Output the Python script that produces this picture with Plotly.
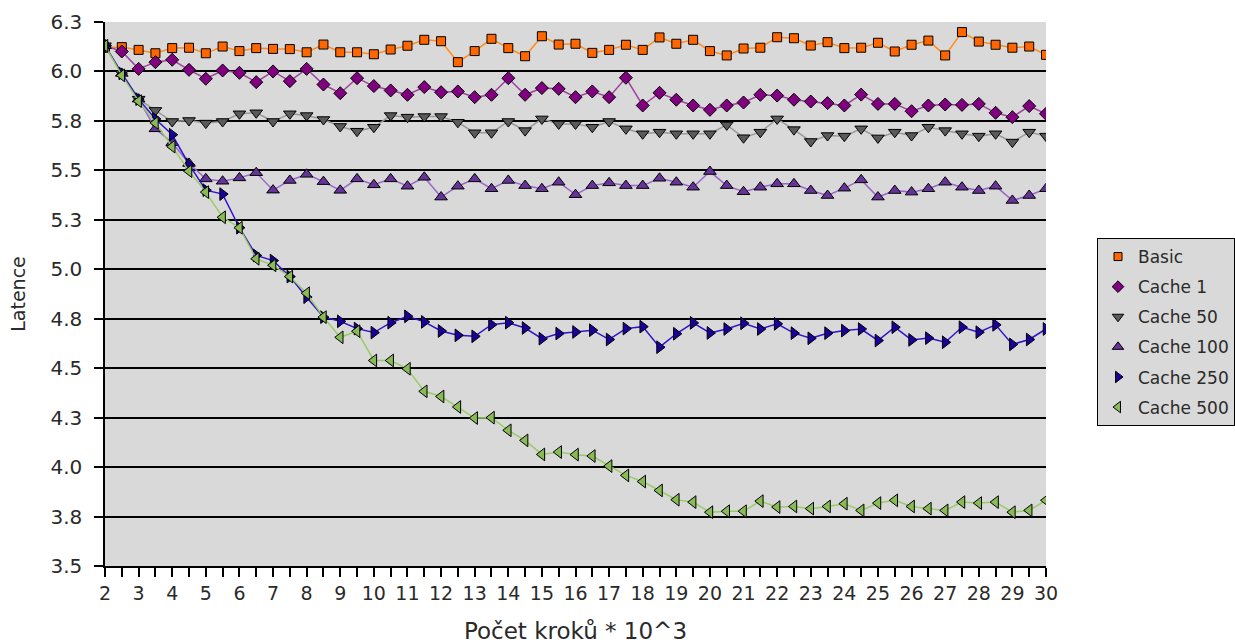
import plotly.graph_objects as go

# Počet kroků (v tisících)
krok = [2, 2.5, 3, 3.5, 4, 4.5, 5, 5.5, 6, 6.5, 7, 7.5, 8, 8.5, 9, 9.5, 10, 10.5,
        11, 11.5, 12, 12.5, 13, 13.5, 14, 14.5, 15, 15.5, 16, 16.5, 17, 17.5, 18,
        18.5, 19, 19.5, 20, 20.5, 21, 21.5, 22, 22.5, 23, 23.5, 24, 24.5, 25, 25.5,
        26, 26.5, 27, 27.5, 28, 28.5, 29, 29.5, 30]

basic = [6.12, 6.123, 6.109, 6.092, 6.118, 6.12, 6.092, 6.126, 6.103, 6.118, 6.114,
         6.113, 6.097, 6.136, 6.097, 6.097, 6.087, 6.111, 6.13, 6.16, 6.153, 6.047,
         6.103, 6.165, 6.118, 6.077, 6.178, 6.136, 6.14, 6.094, 6.109, 6.135, 6.109,
         6.172, 6.14, 6.16, 6.103, 6.081, 6.116, 6.12, 6.173, 6.168, 6.131, 6.148,
         6.118, 6.12, 6.145, 6.101, 6.135, 6.156, 6.081, 6.199, 6.151, 6.135, 6.12,
         6.126, 6.084]

cache_1 = [6.13, 6.101, 6.013, 6.047, 6.059, 6.008, 5.963, 6.005, 5.993, 5.946, 6.0,
           5.951, 6.013, 5.934, 5.89, 5.966, 5.926, 5.904, 5.882, 5.921, 5.895, 5.899,
           5.87, 5.882, 5.966, 5.882, 5.916, 5.912, 5.87, 5.899, 5.87, 5.968, 5.828,
           5.892, 5.857, 5.828, 5.806, 5.828, 5.843, 5.882, 5.878, 5.857, 5.848, 5.84,
           5.828, 5.883, 5.836, 5.836, 5.799, 5.828, 5.833, 5.831, 5.836, 5.791,
           5.769, 5.825, 5.786]

cache_50 = [6.13, 5.99, 5.86, 5.803, 5.747, 5.752, 5.739, 5.747, 5.786, 5.791, 5.747,
            5.786, 5.777, 5.757, 5.722, 5.698, 5.718, 5.777, 5.769, 5.772, 5.772,
            5.743, 5.69, 5.69, 5.747, 5.701, 5.76, 5.735, 5.735, 5.718, 5.747, 5.71,
            5.685, 5.693, 5.685, 5.685, 5.685, 5.73, 5.665, 5.693, 5.76, 5.706, 5.646,
            5.676, 5.673, 5.71, 5.664, 5.693, 5.676, 5.718, 5.701, 5.685, 5.673, 5.685,
            5.643, 5.693, 5.673]

cache_100 = [6.13, 5.99, 5.86, 5.71, 5.64, 5.535, 5.457, 5.445, 5.462, 5.488, 5.40,
             5.449, 5.48, 5.443, 5.399, 5.457, 5.427, 5.457, 5.42, 5.465, 5.365, 5.42,
             5.457, 5.407, 5.449, 5.423, 5.407, 5.44, 5.377, 5.423, 5.437, 5.423,
             5.423, 5.46, 5.44, 5.415, 5.494, 5.423, 5.392, 5.415, 5.432, 5.432, 5.398,
             5.373, 5.41, 5.452, 5.365, 5.398, 5.39, 5.407, 5.44, 5.415, 5.398, 5.42,
             5.348, 5.373, 5.407]

cache_250 = [6.13, 5.99, 5.86, 5.76, 5.68, 5.53, 5.40, 5.38, 5.21, 5.07, 5.044, 4.963,
             4.859, 4.758, 4.737, 4.70, 4.68, 4.73, 4.762, 4.734, 4.688, 4.666, 4.661,
             4.72, 4.73, 4.703, 4.649, 4.675, 4.683, 4.692, 4.645, 4.70, 4.71, 4.606,
             4.674, 4.729, 4.678, 4.698, 4.727, 4.698, 4.724, 4.677, 4.651, 4.677, 4.69,
             4.698, 4.64, 4.707, 4.643, 4.652, 4.631, 4.707, 4.682, 4.719, 4.62, 4.645,
             4.698]

cache_500 = [6.13, 5.98, 5.85, 5.74, 5.62, 5.496, 5.39, 5.263, 5.21, 5.053, 5.02, 4.963,
             4.879, 4.758, 4.656, 4.687, 4.539, 4.539, 4.497, 4.383, 4.357, 4.304,
             4.248, 4.25, 4.186, 4.135, 4.064, 4.076, 4.063, 4.056, 4.005, 3.958, 3.927,
             3.882, 3.835, 3.823, 3.772, 3.777, 3.777, 3.828, 3.798, 3.801, 3.79, 3.801,
             3.815, 3.781, 3.818, 3.832, 3.801, 3.79, 3.781, 3.823, 3.818, 3.823, 3.772,
             3.781, 3.832]

y_ticks = [3.5, 3.75, 4.0, 4.25, 4.5, 4.75, 5.0, 5.25, 5.5, 5.75, 6.0, 6.25]
y_tick_text = ["3.5", "3.8", "4.0", "4.3", "4.5", "4.8", "5.0", "5.3", "5.5", "5.8",
               "6.0", "6.3"]
x_tick_text = [str(int(k)) if float(k).is_integer() else "" for k in krok]

series = [
    ("Basic", basic, "square", "#ff6600", "#ff8c1a", 9),
    ("Cache 1", cache_1, "diamond", "#800080", "#a040a0", 10),
    ("Cache 50", cache_50, "triangle-down", "#5a5a5a", "#999999", 11),
    ("Cache 100", cache_100, "triangle-up", "#663399", "#9966cc", 11),
    ("Cache 250", cache_250, "triangle-right", "#1a0099", "#3311cc", 11),
    ("Cache 500", cache_500, "triangle-left", "#88bb55", "#99cc66", 11),
]

fig = go.Figure()
for name, vals, symbol, fill, line_color, size in series:
    # the data line itself
    fig.add_trace(go.Scatter(
        x=krok, y=vals, name=name, mode="lines+markers", showlegend=False,
        legendgroup=name,
        line=dict(color=line_color, width=1.5),
        marker=dict(symbol=symbol, size=size, color=fill,
                    line=dict(color="#000000", width=1)),
    ))
    # marker-only legend key
    fig.add_trace(go.Scatter(
        x=[None], y=[None], name=name, mode="markers", legendgroup=name,
        marker=dict(symbol=symbol, size=size - 1, color=fill,
                    line=dict(color="#000000", width=1)),
    ))

font_family = "DejaVu Sans, Verdana, sans-serif"
fig.update_layout(
    width=1235, height=644,
    margin=dict(l=105, r=189, t=22, b=78),
    paper_bgcolor="#ffffff",
    plot_bgcolor="#d9d9d9",
    font=dict(family=font_family, size=20, color="#2a2a2a"),
    showlegend=True,
    legend=dict(
        xref="container", yref="container",
        x=1097 / 1235, y=1 - 238 / 644, xanchor="left", yanchor="top",
        bgcolor="#d9d9d9", bordercolor="#000000", borderwidth=1,
        font=dict(family=font_family, size=17, color="#2a2a2a"),
        tracegroupgap=5,
    ),
    xaxis=dict(
        range=[2, 30], tickmode="array", tickvals=krok, ticktext=x_tick_text,
        ticks="outside", ticklen=9, tickwidth=1.5, tickcolor="#000000",
        showline=True, linecolor="#000000", linewidth=1.5,
        showgrid=False, zeroline=False, tickfont=dict(size=19),
        automargin=False,
        title=dict(text="Počet kroků * 10^3", font=dict(size=23), standoff=24),
    ),
    yaxis=dict(
        range=[3.5, 6.25], tickmode="array", tickvals=y_ticks, ticktext=y_tick_text,
        ticks="outside", ticklen=9, tickwidth=1.5, tickcolor="#000000",
        showline=True, linecolor="#000000", linewidth=1.5,
        showgrid=True, gridcolor="#000000", gridwidth=1.5, zeroline=False,
        tickfont=dict(size=20), ticklabelstandoff=8, automargin=False,
        title=dict(text="Latence", font=dict(size=19), standoff=20),
    ),
)

fig.write_html("out.html")
